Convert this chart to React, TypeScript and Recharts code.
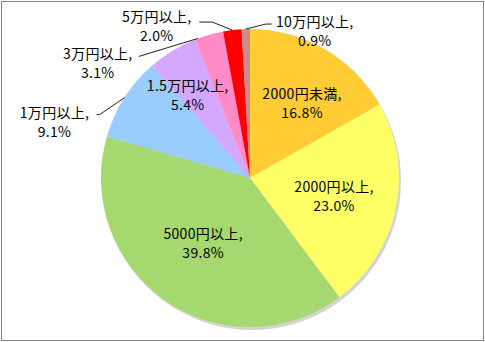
import React from "react";
import { PieChart, Pie, Cell } from "recharts";

const categories = [
  "2000円未満",
  "2000円以上",
  "5000円以上",
  "1万円以上",
  "1.5万円以上",
  "3万円以上",
  "5万円以上",
  "10万円以上",
];
const shares = [16.8, 23.0, 39.8, 9.1, 5.4, 3.1, 2.0, 0.9];
const colors = ["#FFCC33", "#FFFF66", "#A5D86E", "#99CCFF", "#D4A8FF", "#FF8AC8", "#FF0000", "#CC8C8C"];

const data = categories.map((name, i) => ({ name, value: shares[i] }));

// label placement: inside labels sit near the slice's mid angle, outside ones get a leader line
type InLabel = { kind: "in"; r: number; shift: number };
type OutLabel = { kind: "out"; at?: number; elbow?: [number, number]; end: [number, number]; text: [number, number] };
const labelLayout: (InLabel | OutLabel)[] = [
  { kind: "in", r: 0.615, shift: 4.4 },
  { kind: "in", r: 0.576, shift: 0 },
  { kind: "in", r: 0.536, shift: 1.2 },
  { kind: "out", elbow: [-25, 17], end: [-28, 17], text: [-42, 7] },
  { kind: "in", r: 0.7, shift: -5.4 },
  { kind: "out", at: -4.5, end: [-59, 18], text: [-41, 6] },
  { kind: "out", elbow: [-20, -8], end: [-33, -8], text: [-42.5, 3] },
  { kind: "out", elbow: [20, -5], end: [26, -5], text: [43, 6] },
];

const RAD = Math.PI / 180;
const FONT = "'Noto Sans CJK JP', 'Noto Sans', sans-serif";
const LINE_GAP = 9.5;

const renderLabel = (props: any) => {
  const { cx, cy, midAngle, outerRadius, index, name, value } = props;
  const lay = labelLayout[index];
  const lines = [`${name},`, `${value.toFixed(1)}%`];
  let tx: number;
  let ty: number;
  let line: React.ReactNode = null;
  if (lay.kind === "in") {
    const a = (midAngle - lay.shift) * RAD;
    tx = cx + outerRadius * lay.r * Math.cos(-a);
    ty = cy + outerRadius * lay.r * Math.sin(-a);
  } else {
    const a = (midAngle - (lay.at ?? 0)) * RAD;
    const ex = cx + outerRadius * Math.cos(-a);
    const ey = cy + outerRadius * Math.sin(-a);
    const pts: [number, number][] = [[ex, ey]];
    if (lay.elbow) pts.push([ex + lay.elbow[0], ey + lay.elbow[1]]);
    const px = ex + lay.end[0];
    const py = ey + lay.end[1];
    pts.push([px, py]);
    tx = px + lay.text[0];
    ty = py + lay.text[1];
    line = <polyline points={pts.map((p) => p.join(",")).join(" ")} fill="none" stroke="#222" strokeWidth={1} />;
  }
  return (
    <g key={`lbl-${index}`}>
      {line}
      {lines.map((t, i) => (
        <text
          key={i}
          x={tx}
          y={ty + (i === 0 ? -LINE_GAP : LINE_GAP)}
          textAnchor="middle"
          dominantBaseline="central"
          fontFamily={FONT}
          fontSize={14}
          letterSpacing={0.3}
          fill="#000"
        >
          {t}
        </text>
      ))}
    </g>
  );
};

export default function App() {
  return (
    <div style={{ position: "absolute", left: 0, top: 0, width: 485, height: 342, background: "#fff" }}>
      <div
        style={{
          position: "absolute",
          left: 1,
          top: 1,
          width: 481,
          height: 338,
          border: "1px solid #848484",
        }}
      />
      <div style={{ position: "absolute", left: 0, top: 0 }}>
        <PieChart width={485} height={342} margin={{ top: 0, right: 0, bottom: 0, left: 0 }}>
          <Pie
            data={[{ name: "shadow", value: 1 }]}
            dataKey="value"
            cx={252}
            cy={181}
            outerRadius={149}
            startAngle={90}
            endAngle={-270}
            fill="#b8b8b8"
            fillOpacity={0.6}
            stroke="none"
            isAnimationActive={false}
          />
          <Pie
            data={data}
            dataKey="value"
            cx={250}
            cy={178}
            outerRadius={149}
            startAngle={90}
            endAngle={-270}
            stroke="none"
            label={renderLabel}
            labelLine={false}
            isAnimationActive={false}
          >
            {data.map((d, i) => (
              <Cell key={d.name} fill={colors[i]} />
            ))}
          </Pie>
        </PieChart>
      </div>
    </div>
  );
}
